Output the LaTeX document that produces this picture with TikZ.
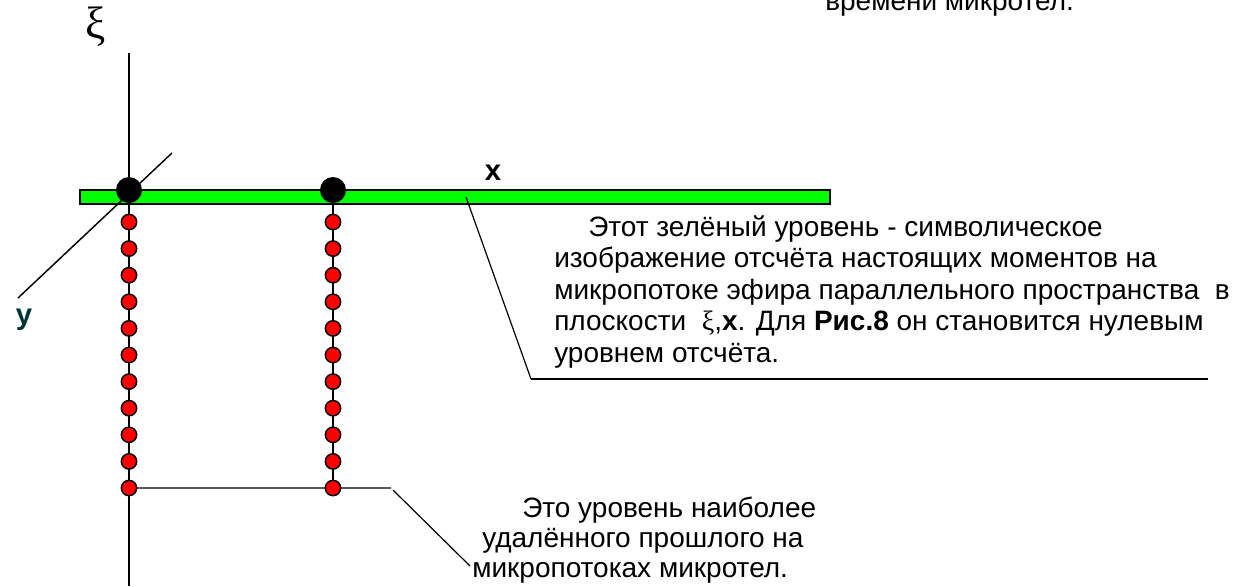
\documentclass[tikz,border=0pt]{standalone}
\usepackage{fontspec}
\setmainfont{Liberation Sans}
\newfontfamily\grk{Liberation Serif}
\definecolor{levelgreen}{RGB}{0,255,0}
\definecolor{ytext}{RGB}{0,51,51}
\pgfdeclarelayer{barlayer}
\pgfdeclarelayer{linelayer}
\pgfsetlayers{barlayer,linelayer,main}
\begin{document}
\begin{tikzpicture}[x=0.75pt,y=-0.75pt,
  thin line/.style={line width=1.1pt,black},
  note line/.style={line width=0.9pt,black},
  level bar/.style={draw,line width=1.1pt,fill=levelgreen,rectangle,inner sep=0pt,
    minimum width=562.5pt,minimum height=10.5pt},
  big dot/.style={circle,fill=black,inner sep=0pt,minimum size=19.5pt},
  red dot/.style={circle,draw,line width=1.1pt,fill=red,inner sep=0pt,minimum size=11.5pt},
  txt/.style={anchor=base west,inner sep=0pt,font=\fontsize{21}{24}\selectfont},
  axlabel/.style={anchor=base,inner sep=0pt,font=\fontsize{22}{26}\selectfont\bfseries}]
\useasboundingbox (0,0) rectangle (1248,586);
\clip (0,0) rectangle (1248,586);

% present-moment level
\begin{pgfonlayer}{barlayer}
  \node[level bar] (bar) at (455,197) {};
\end{pgfonlayer}

% points on the level and the chains of micro-moments below them
\node[big dot] (b1) at (129,190) {};
\node[big dot] (b2) at (333,190) {};
\foreach \i in {0,...,10}{
  \node[red dot] (r\i) at (129,{222+26.6*\i}) {};
  \node[red dot] (s\i) at (333,{222+26.6*\i}) {};
}

% axes
\coordinate (xitop) at (129,53);
\coordinate (xibot) at (129,586);
\coordinate (ytip) at (172,153);
\coordinate (yend) at (18,298);

% leader lines
\coordinate (lowend) at (391,488);
\coordinate (lowstart) at (393,490);
\coordinate (lownote) at (470,566);
\coordinate (onbar) at (466,197);
\coordinate (kink) at (531,379);
\coordinate (rule) at (1208,379);

\begin{pgfonlayer}{linelayer}
  \draw[thin line] (xitop) -- (xibot);
  \draw[thin line] (ytip) -- (yend);
  \draw[thin line] (b2.center) -- (s10.center);
  \draw[thin line] (r10.center) -- (lowend);
  \draw[note line] (lowstart) -- (lownote);
  \draw[note line] (onbar) -- (kink);
  \draw[line width=1.6pt] (kink) -- (rule);
\end{pgfonlayer}

% axis labels
\node[anchor=center,inner sep=0pt,font=\fontsize{34}{38}\selectfont\grk] (xilab) at (96,27) {ξ};
\node[axlabel] (xlab) at (493,180) {x};
\node[axlabel,text=ytext] (ylab) at (24,324) {y};

% caption continued from above
\node[txt] (top) at (825,10) {времени микротел.};

% note on the green level
\node[txt] (g1) at (588,236) {Этот зелёный уровень - символическое};
\node[txt] (g2) at (554,267.5) {изображение отсчёта настоящих моментов на};
\node[txt] (g3) at (554,299) {микропотоке эфира параллельного пространства\ \ в};
\node[txt] (g4) at (554,330.5) {плоскости\ \ {\grk ξ},\textbf{x}. Для \textbf{Рис.8} он становится нулевым};
\node[txt] (g5) at (554,362) {уровнем отсчёта.};

% note on the most remote past level
\node[txt] (p1) at (522,517) {Это уровень наиболее};
\node[txt] (p2) at (482,547) {удалённого прошлого на};
\node[txt] (p3) at (472,577) {микропотоках микротел.};
\end{tikzpicture}
\end{document}
